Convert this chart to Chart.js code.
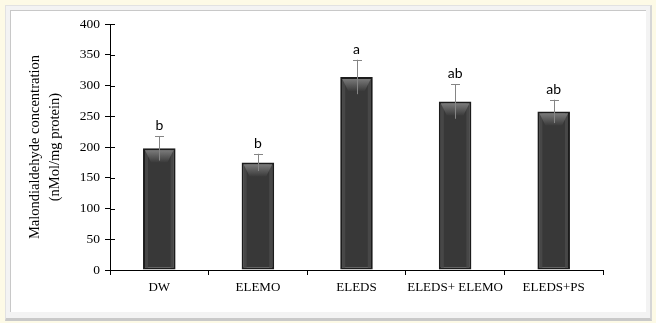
<!DOCTYPE html>
<html>
<head>
<meta charset="utf-8">
<script src="https://cdn.jsdelivr.net/npm/chart.js@4/dist/chart.umd.min.js"></script>
<style>
  html, body { margin: 0; padding: 0; }
  body { width: 656px; height: 323px; background: #fdfae6; position: relative; overflow: hidden; }
  #outer { position: absolute; left: 5px; top: 5px; width: 644px; height: 312px;
           background: #f3f3f3; border: 1px solid #e2e2e2; border-bottom: 3px solid #c9c9c9; border-right: 2px solid #d6d6d6; }
  #box { position: absolute; left: 10px; top: 10px; width: 636px; height: 302px;
         background: #fff; border-top: 1px solid #c8c8c8; border-left: 1px solid #c8c8c8; box-sizing: border-box; }
  #box canvas { position: absolute; left: 0; top: 0; }
</style>
</head>
<body>
<div id="outer"></div>
<div id="box"><canvas id="mdaChart" width="636" height="302"></canvas></div>
<script>
// Data
const groups = ['DW', 'ELEMO', 'ELEDS', 'ELEDS+ ELEMO', 'ELEDS+PS'];
const mdaValues = [198, 175, 314, 274, 258];
const mdaErrors = [20, 14, 28, 28, 19];
const sigLetters = ['b', 'b', 'a', 'ab', 'ab'];
const yTicks = [0, 50, 100, 150, 200, 250, 300, 350, 400];

const serif = '"Liberation Serif", "Times New Roman", serif';

// bevel look on each bar + error bars + significance letters
const barDecor = {
    id: 'barDecor',
    afterDatasetsDraw(chart) {
        const ctx = chart.ctx;
        const y = chart.scales.y;
        const meta = chart.getDatasetMeta(0);
        meta.data.forEach((bar, i) => {
            const left = bar.x - bar.width / 2;
            const right = bar.x + bar.width / 2;
            const top = bar.y;
            const bottom = bar.base;
            ctx.save();
            // inner side strips
            ctx.fillStyle = '#474747';
            ctx.fillRect(left + 2, top + 2, 3, bottom - top - 4);
            ctx.fillRect(right - 5, top + 2, 3, bottom - top - 4);
            // top bevel
            const g = ctx.createLinearGradient(0, top + 2, 0, top + 14);
            g.addColorStop(0, '#7a7a7a');
            g.addColorStop(1, '#3b3b3b');
            ctx.fillStyle = g;
            ctx.beginPath();
            ctx.moveTo(left + 2, top + 2);
            ctx.lineTo(right - 2, top + 2);
            ctx.lineTo(right - 8, top + 14);
            ctx.lineTo(left + 8, top + 14);
            ctx.closePath();
            ctx.fill();

            // error bar
            const yHi = y.getPixelForValue(mdaValues[i] + mdaErrors[i]);
            const yLo = y.getPixelForValue(mdaValues[i] - mdaErrors[i]);
            ctx.strokeStyle = '#858585';
            ctx.lineWidth = 1;
            ctx.beginPath();
            ctx.moveTo(Math.round(bar.x) + 0.5, yLo);
            ctx.lineTo(Math.round(bar.x) + 0.5, yHi);
            ctx.moveTo(Math.round(bar.x) - 4, Math.round(yHi) + 0.5);
            ctx.lineTo(Math.round(bar.x) + 5, Math.round(yHi) + 0.5);
            ctx.stroke();

            // letter
            ctx.fillStyle = '#000';
            ctx.font = '14px Lato, "Open Sans", sans-serif';
            ctx.textAlign = 'center';
            ctx.textBaseline = 'alphabetic';
            ctx.fillText(sigLetters[i], bar.x, yHi - 6);
            ctx.restore();
        });
    }
};

// y ticks cross the axis line, so add the inner half
const innerTicks = {
    id: 'innerTicks',
    afterDraw(chart) {
        const ctx = chart.ctx;
        const y = chart.scales.y;
        const x0 = chart.chartArea.left;
        ctx.save();
        ctx.strokeStyle = '#000';
        ctx.lineWidth = 1;
        ctx.beginPath();
        yTicks.forEach(v => {
            const py = Math.round(y.getPixelForValue(v)) + 0.5;
            ctx.moveTo(x0, py);
            ctx.lineTo(x0 + 5, py);
        });
        ctx.stroke();
        ctx.restore();
    }
};

new Chart(document.getElementById('mdaChart'), {
    type: 'bar',
    data: {
        labels: groups,
        datasets: [{
            data: mdaValues,
            backgroundColor: '#383838',
            borderColor: '#1c1c1c',
            borderWidth: 2,
            borderSkipped: false,
            barPercentage: 0.33,
            categoryPercentage: 1
        }]
    },
    options: {
        responsive: false,
        animation: false,
        devicePixelRatio: 1,
        layout: { padding: { top: 11, right: 44, bottom: 0, left: 0 } },
        plugins: { legend: { display: false }, tooltip: { enabled: false } },
        scales: {
            x: {
                grid: { offset: true, drawOnChartArea: false, drawTicks: true, tickLength: 5, color: '#000' },
                border: { display: true, color: '#000', width: 1 },
                ticks: { color: '#000', padding: 5, maxRotation: 0, minRotation: 0, autoSkip: false,
                         font: { family: serif, size: 13 } },
                afterFit(scale) { scale.height = 43; }
            },
            y: {
                min: 0,
                max: 400,
                afterBuildTicks(scale) { scale.ticks = yTicks.map(v => ({ value: v })); },
                grid: { drawOnChartArea: false, drawTicks: true, tickLength: 5, color: '#000' },
                border: { display: true, color: '#000', width: 1 },
                ticks: { color: '#000', padding: 5, font: { family: serif, size: 13.5 } },
                title: {
                    display: true,
                    text: ['Malondialdehyde concentration', '(nMol/mg protein)'],
                    color: '#000',
                    font: { family: serif, size: 14.5, lineHeight: 1.4 },
                    padding: { top: 14, bottom: 0 }
                },
                afterFit(scale) { scale.width = 99; }
            }
        }
    },
    plugins: [barDecor, innerTicks]
});
</script>
</body>
</html>
